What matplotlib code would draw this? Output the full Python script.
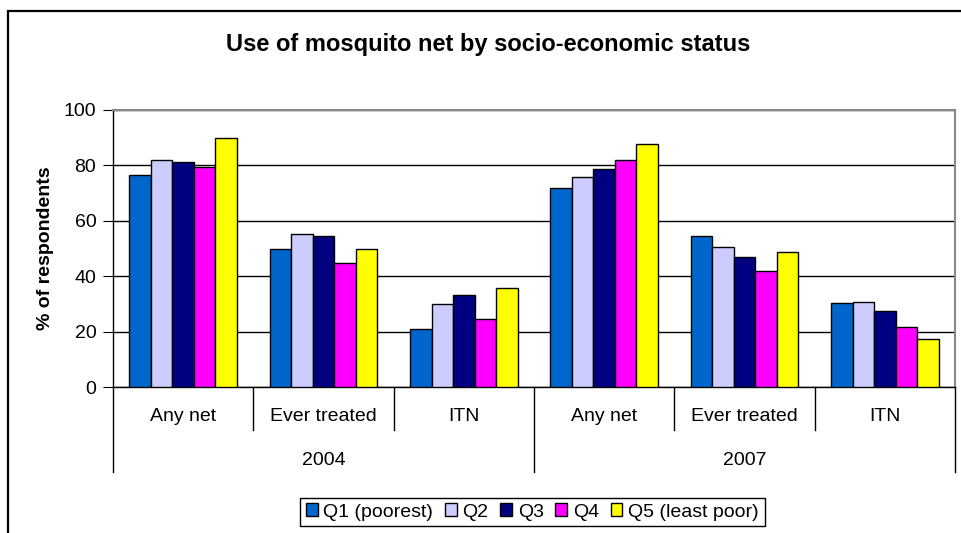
import numpy as np
import matplotlib.pyplot as plt
import matplotlib.transforms as mtransforms
from matplotlib.patches import Rectangle

plt.rcParams['font.family'] = ['Liberation Sans', 'DejaVu Sans']

years = ['2004', '2007']
measures = ['Any net', 'Ever treated', 'ITN']
quintiles = ['Q1 (poorest)', 'Q2', 'Q3', 'Q4', 'Q5 (least poor)']
colors = ['#0066CC', '#CCCCFF', '#000080', '#FF00FF', '#FFFF00']

# rows: quintile, columns: 2004 Any net, Ever treated, ITN, 2007 Any net, Ever treated, ITN
q1 = [76.4, 50.0, 21.1, 71.9, 54.4, 30.2]
q2 = [81.8, 55.4, 30.1, 75.8, 50.4, 30.7]
q3 = [81.4, 54.4, 33.1, 78.6, 47.1, 27.3]
q4 = [79.4, 44.8, 24.4, 82.0, 42.0, 21.7]
q5 = [90.0, 50.0, 35.7, 87.6, 48.7, 17.2]
values = [q1, q2, q3, q4, q5]

fig = plt.figure(figsize=(9.61, 5.33), dpi=100)
ax = fig.add_axes([113/961, (533-387)/533, (955-113)/961, (387-110)/533])

# outer chart border
fig.patches.append(Rectangle((8/961, -0.05), 1.1, 1 - 11/533 + 0.05, transform=fig.transFigure,
                             fill=False, edgecolor='black', lw=1.6))

n_cat = len(years) * len(measures)
x = np.arange(n_cat) + 0.5
w = 0.1535
for j, (vals, c, lab) in enumerate(zip(values, colors, quintiles)):
    ax.bar(x + (j - 2) * w, vals, width=w, color=c, edgecolor='black', lw=1, label=lab, zorder=3)

ax.set_xlim(0, n_cat)
ax.set_ylim(0, 100)
ax.set_yticks(range(0, 101, 20))
ax.tick_params(axis='y', direction='out', length=7, labelsize=14, pad=5)
ax.yaxis.grid(True, color='black', lw=1)
ax.set_axisbelow(True)
ax.set_xticks([])
for s in ['top', 'right']:
    ax.spines[s].set_color('#888888')
    ax.spines[s].set_linewidth(1.5)
ax.spines['left'].set_linewidth(1)
ax.spines['bottom'].set_linewidth(1)

ax.set_ylabel('% of respondents', fontsize=14, fontweight='bold', labelpad=7)
fig.text(488/961, 1 - 45/533, 'Use of mosquito net by socio-economic status',
         ha='center', va='center', fontsize=17, fontweight='bold')

# multi-level category axis
tr = mtransforms.blended_transform_factory(ax.transData, ax.transAxes)
for i in range(n_cat + 1):
    low = -0.307 if i % 3 == 0 else -0.155
    ax.plot([i, i], [0, low], transform=tr, color='black', lw=1, clip_on=False)
for i in range(n_cat):
    ax.text(x[i], -0.108, measures[i % 3], transform=tr, ha='center', va='center', fontsize=14)
for k, yr in enumerate(years):
    ax.text(k * 3 + 1.5, -0.264, yr, transform=tr, ha='center', va='center', fontsize=14)

fig.legend(loc='center', bbox_to_anchor=(0.554, 0.0394), ncol=5, fontsize=14,
           frameon=True, fancybox=False, edgecolor='black', framealpha=1,
           handlelength=0.6, handleheight=0.6, handletextpad=0.3,
           columnspacing=0.6, borderpad=0.3)

fig.savefig('out.png', dpi=100)
